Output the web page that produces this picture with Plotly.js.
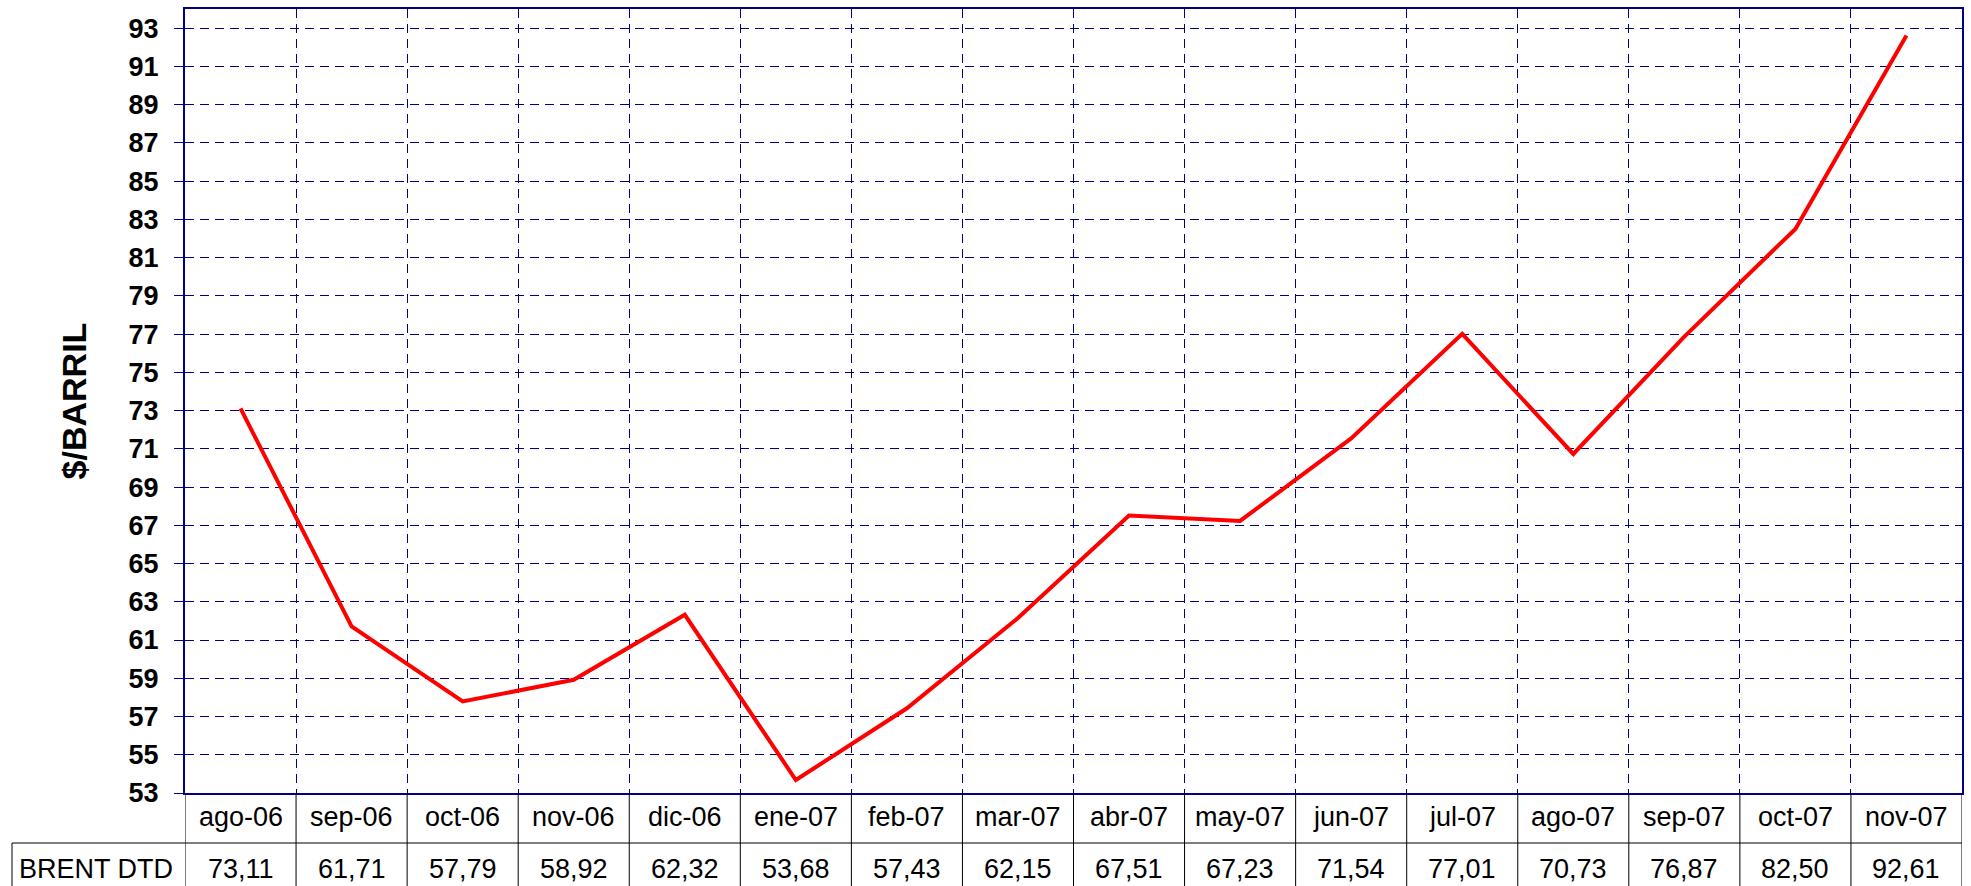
<!DOCTYPE html>
<html><head><meta charset="utf-8">
<script src="https://cdn.plot.ly/plotly-3.0.1.min.js"></script>
<style>html,body{margin:0;padding:0;background:#fff;overflow:hidden}</style>
</head><body><div id="chart" style="width:1971px;height:886px"></div>
<script>
// ---- data ----
const months = ['ago-06','sep-06','oct-06','nov-06','dic-06','ene-07','feb-07','mar-07','abr-07','may-07','jun-07','jul-07','ago-07','sep-07','oct-07','nov-07'];
const brentDTD = [73.11, 61.71, 57.79, 58.92, 62.32, 53.68, 57.43, 62.15, 67.51, 67.23, 71.54, 77.01, 70.73, 76.87, 82.50, 92.61];
const seriesName = 'BRENT DTD';
const yTitle = '$/BARRIL';
const yMin = 53, yMax = 94, yStep = 2;

// ---- geometry helpers (pixels -> paper) ----
const W = 1971, H = 886;
const M = {l: 185, r: 9, t: 9, b: 93};
const plotW = W - M.l - M.r, plotH = H - M.t - M.b;
const py = p => (H - M.b - p) / plotH;
const px = p => (p - M.l) / plotW;

const FONT = 'Liberation Sans, Arial, sans-serif';
const NAVY = '#000080';

const valueLabels = brentDTD.map(v => v.toFixed(2).replace('.', ','));

const shapes = [];
// horizontal line between category row and value row
shapes.push({type:'line', xref:'paper', yref:'paper', x0: px(12), x1: 1, y0: py(843), y1: py(843), line:{color:'#000', width:1}});
// vertical table lines at category boundaries
for (let i = 0; i <= months.length; i++) {
  shapes.push({type:'line', xref:'x', yref:'paper', x0: i - 0.5, x1: i - 0.5, y0: 0, y1: py(H + 2), line:{color:'#000', width:1}});
}
// left edge of the series-name cell
shapes.push({type:'line', xref:'paper', yref:'paper', x0: px(12), x1: px(12), y0: py(843), y1: py(H + 2), line:{color:'#000', width:1}});

const annotations = [];
months.forEach((m, i) => {
  annotations.push({xref:'x', yref:'paper', x: m, y: py(817), text: m, showarrow:false, xanchor:'center', yanchor:'middle', font:{family:FONT, size:27, color:'#000'}});
  annotations.push({xref:'x', yref:'paper', x: m, y: py(869), text: valueLabels[i], showarrow:false, xanchor:'center', yanchor:'middle', font:{family:FONT, size:27, color:'#000'}});
});
annotations.push({xref:'paper', yref:'paper', x: px(17), y: py(869), text: seriesName, showarrow:false, xanchor:'left', yanchor:'middle', font:{family:FONT, size:27, color:'#000'}});

const trace = {
  type:'scatter', mode:'lines', name: seriesName,
  x: months, y: brentDTD,
  line:{color:'#ff0000', width:4},
  hoverinfo:'x+y'
};

const layout = {
  width: W, height: H,
  margin: M,
  paper_bgcolor:'#fff', plot_bgcolor:'#fff',
  showlegend:false,
  xaxis:{
    type:'category', range:[-0.5, months.length - 0.5],
    tickson:'boundaries', showgrid:true, gridcolor:NAVY, gridwidth:1, griddash:'9px,6px',
    showticklabels:false, ticks:'', showline:true, mirror:true, linecolor:NAVY, linewidth:2, zeroline:false
  },
  yaxis:{
    range:[yMin, yMax], tick0:yMin, dtick:yStep,
    showgrid:true, gridcolor:NAVY, gridwidth:1, griddash:'9px,6px',
    ticks:'outside', ticklen:9, tickcolor:NAVY, tickwidth:1,
    ticklabelstandoff: 10,
    tickfont:{family:FONT, size:27, color:'#000', weight:'bold'},
    showline:true, mirror:true, linecolor:NAVY, linewidth:2, zeroline:false,
    title:{text:yTitle, standoff:32, font:{family:FONT, size:34, color:'#000', weight:'bold'}},
    automargin:false
  },
  shapes, annotations
};

Plotly.newPlot('chart', [trace], layout, {displayModeBar:false, staticPlot:true});
</script>
</body></html>
